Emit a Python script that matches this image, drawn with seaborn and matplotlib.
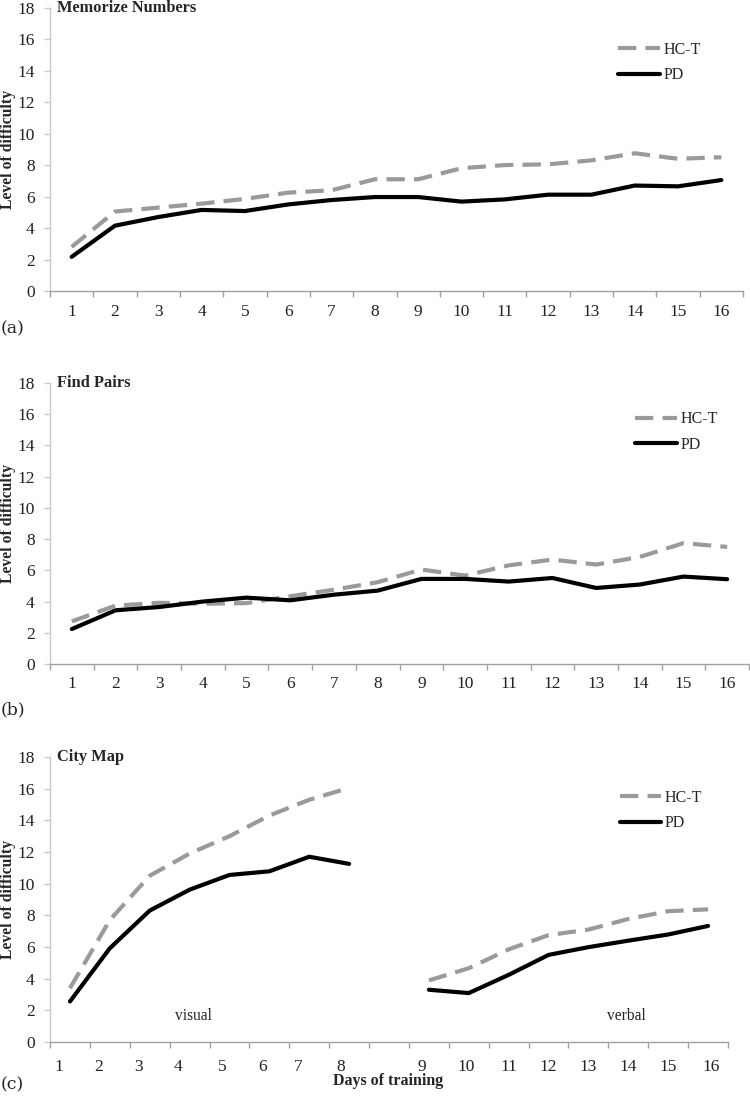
import matplotlib
matplotlib.use("Agg")
import matplotlib.pyplot as plt
import seaborn as sns
import pandas as pd

# ---- data ----
days = list(range(1, 17))
groups = ["HC-T", "PD"]

mem_hct = [2.8, 5.05, 5.3, 5.55, 5.85, 6.25, 6.4, 7.1, 7.1, 7.8, 8.0, 8.05, 8.3, 8.75, 8.4, 8.5]
mem_pd = [2.17, 4.15, 4.7, 5.15, 5.08, 5.5, 5.78, 5.97, 5.97, 5.68, 5.82, 6.12, 6.12, 6.7, 6.65, 7.05]

pairs_hct = [2.73, 3.74, 3.92, 3.86, 3.9, 4.34, 4.76, 5.24, 6.05, 5.66, 6.32, 6.69, 6.37, 6.86, 7.74, 7.5]
pairs_pd = [2.24, 3.44, 3.65, 4.0, 4.25, 4.08, 4.44, 4.7, 5.45, 5.45, 5.28, 5.51, 4.87, 5.09, 5.6, 5.43]

visual_days = list(range(1, 9))
verbal_days = list(range(9, 17))
city_visual_hct = [3.4, 7.7, 10.5, 11.9, 13.0, 14.3, 15.3, 16.05]
city_visual_pd = [2.56, 5.92, 8.3, 9.62, 10.55, 10.78, 11.7, 11.25]
city_verbal_hct = [3.89, 4.66, 5.85, 6.75, 7.1, 7.77, 8.26, 8.38]
city_verbal_pd = [3.3, 3.09, 4.24, 5.5, 5.99, 6.4, 6.79, 7.33]

# tick label positions for panel (c) (labels were hand placed in the original)
city_label_pos = [0.73, 1.71, 2.72, 3.72, 4.82, 5.82, 6.73, 7.79,
                  9.82, 10.93, 12.0, 13.0, 14.0, 15.0, 16.0, 17.08]

sns.set_theme(style="white")
plt.rcParams["font.family"] = ["Liberation Serif", "DejaVu Serif"]

palette = {"HC-T": "#9a9a9a", "PD": "#000000"}
dashes = {"HC-T": (4.4, 2.2), "PD": ""}
SPINE_Y = "#c8c8c8"
SPINE_X = "#a0a0a0"

fig = plt.figure(figsize=(7.5, 11.01), dpi=100)
W, H = 750, 1101


def add_ax(left, right, top, bottom):
    return fig.add_axes([left / W, 1 - bottom / H, (right - left) / W, (bottom - top) / H])


def make_df(x, hct, pd_vals, seg="a"):
    return pd.DataFrame({
        "slot": list(x) * 2,
        "level": list(hct) + list(pd_vals),
        "group": ["HC-T"] * len(hct) + ["PD"] * len(pd_vals),
        "segment": [seg] * (len(hct) + len(pd_vals)),
    })


def style_axis(ax, nslots, title, label_pos, label_txt, pad, leg_anchor, width_px):
    ax.set_xlim(0.5, nslots + 0.5)
    ax.set_ylim(0, 18)
    ax.set_yticks(range(0, 19, 2))
    ax.tick_params(axis="y", left=True, length=4, width=1, color=SPINE_Y,
                   labelsize=12.5, pad=7, labelcolor="#222222")
    ax.set_xticks([i + 0.5 for i in range(0, nslots + 1)], minor=True)
    ax.set_xticks(label_pos)
    ax.set_xticklabels(label_txt)
    ax.tick_params(axis="x", which="major", length=0, labelsize=12.5, pad=pad,
                   labelcolor="#222222")
    ax.tick_params(axis="x", which="minor", bottom=True, length=4, width=1, color=SPINE_X)
    for s in ["top", "right"]:
        ax.spines[s].set_visible(False)
    ax.spines["left"].set_color(SPINE_Y)
    ax.spines["bottom"].set_color(SPINE_X)
    ax.spines["left"].set_linewidth(1)
    ax.spines["bottom"].set_linewidth(1)
    ax.set_xlabel("")
    ax.set_ylabel("Level of difficulty", fontsize=11.3, fontweight="bold")
    ax.yaxis.label.set_va("center")
    ax.yaxis.set_label_coords(-42 / width_px, 0.5)
    ax.text(0.01, 1.0, title, transform=ax.transAxes, fontsize=11.8,
            fontweight="bold", va="center", ha="left")
    sns.move_legend(ax, "upper left", bbox_to_anchor=leg_anchor, frameon=False,
                    title=None, fontsize=11.5, handlelength=2.6, handletextpad=0.25,
                    labelspacing=0.6, borderpad=0, borderaxespad=0)


# ---- (a) Memorize Numbers ----
ax1 = add_ax(50, 743, 7.7, 291)
sns.lineplot(data=make_df(days, mem_hct, mem_pd), x="slot", y="level", hue="group",
             style="group", hue_order=groups, style_order=groups, palette=palette,
             dashes=dashes, linewidth=3, ax=ax1)
style_axis(ax1, 16, "Memorize Numbers", days, [str(d) for d in days], 9,
           (0.82, 0.88), 693)

# ---- (b) Find Pairs ----
ax2 = add_ax(50, 749, 383, 664)
sns.lineplot(data=make_df(days, pairs_hct, pairs_pd), x="slot", y="level", hue="group",
             style="group", hue_order=groups, style_order=groups, palette=palette,
             dashes=dashes, linewidth=3, ax=ax2)
style_axis(ax2, 16, "Find Pairs", days, [str(d) for d in days], 9,
           (0.837, 0.9), 699)

# ---- (c) City Map: visual days on slots 1-8, verbal days on slots 10-17 ----
ax3 = add_ax(50, 728, 757, 1042)
city_df = pd.concat([
    make_df(visual_days, city_visual_hct, city_visual_pd, "visual"),
    make_df([d + 1 for d in verbal_days], city_verbal_hct, city_verbal_pd, "verbal"),
], ignore_index=True)
sns.lineplot(data=city_df, x="slot", y="level", hue="group", style="group",
             units="segment", estimator=None, hue_order=groups, style_order=groups,
             palette=palette, dashes=dashes, linewidth=3, ax=ax3)
style_axis(ax3, 17, "City Map", city_label_pos, [str(d) for d in days], 12,
           (0.84, 0.885), 678)
ax3.text(0.211, 0.09, "visual", transform=ax3.transAxes, fontsize=11.2,
         ha="center", va="center")
ax3.text(0.85, 0.09, "verbal", transform=ax3.transAxes, fontsize=11.2,
         ha="center", va="center")
ax3.text(0.4985, -0.137, "Days of training", transform=ax3.transAxes, fontsize=11.5,
         fontweight="bold", ha="center", va="center")

# panel letters
for y, lab in [(329, "(a)"), (710, "(b)"), (1085, "(c)")]:
    fig.text(0.5 / W, 1 - y / H, lab, fontsize=12.5, ha="left", va="center",
             family=["DejaVu Serif"])

fig.savefig("out.png", dpi=100)
